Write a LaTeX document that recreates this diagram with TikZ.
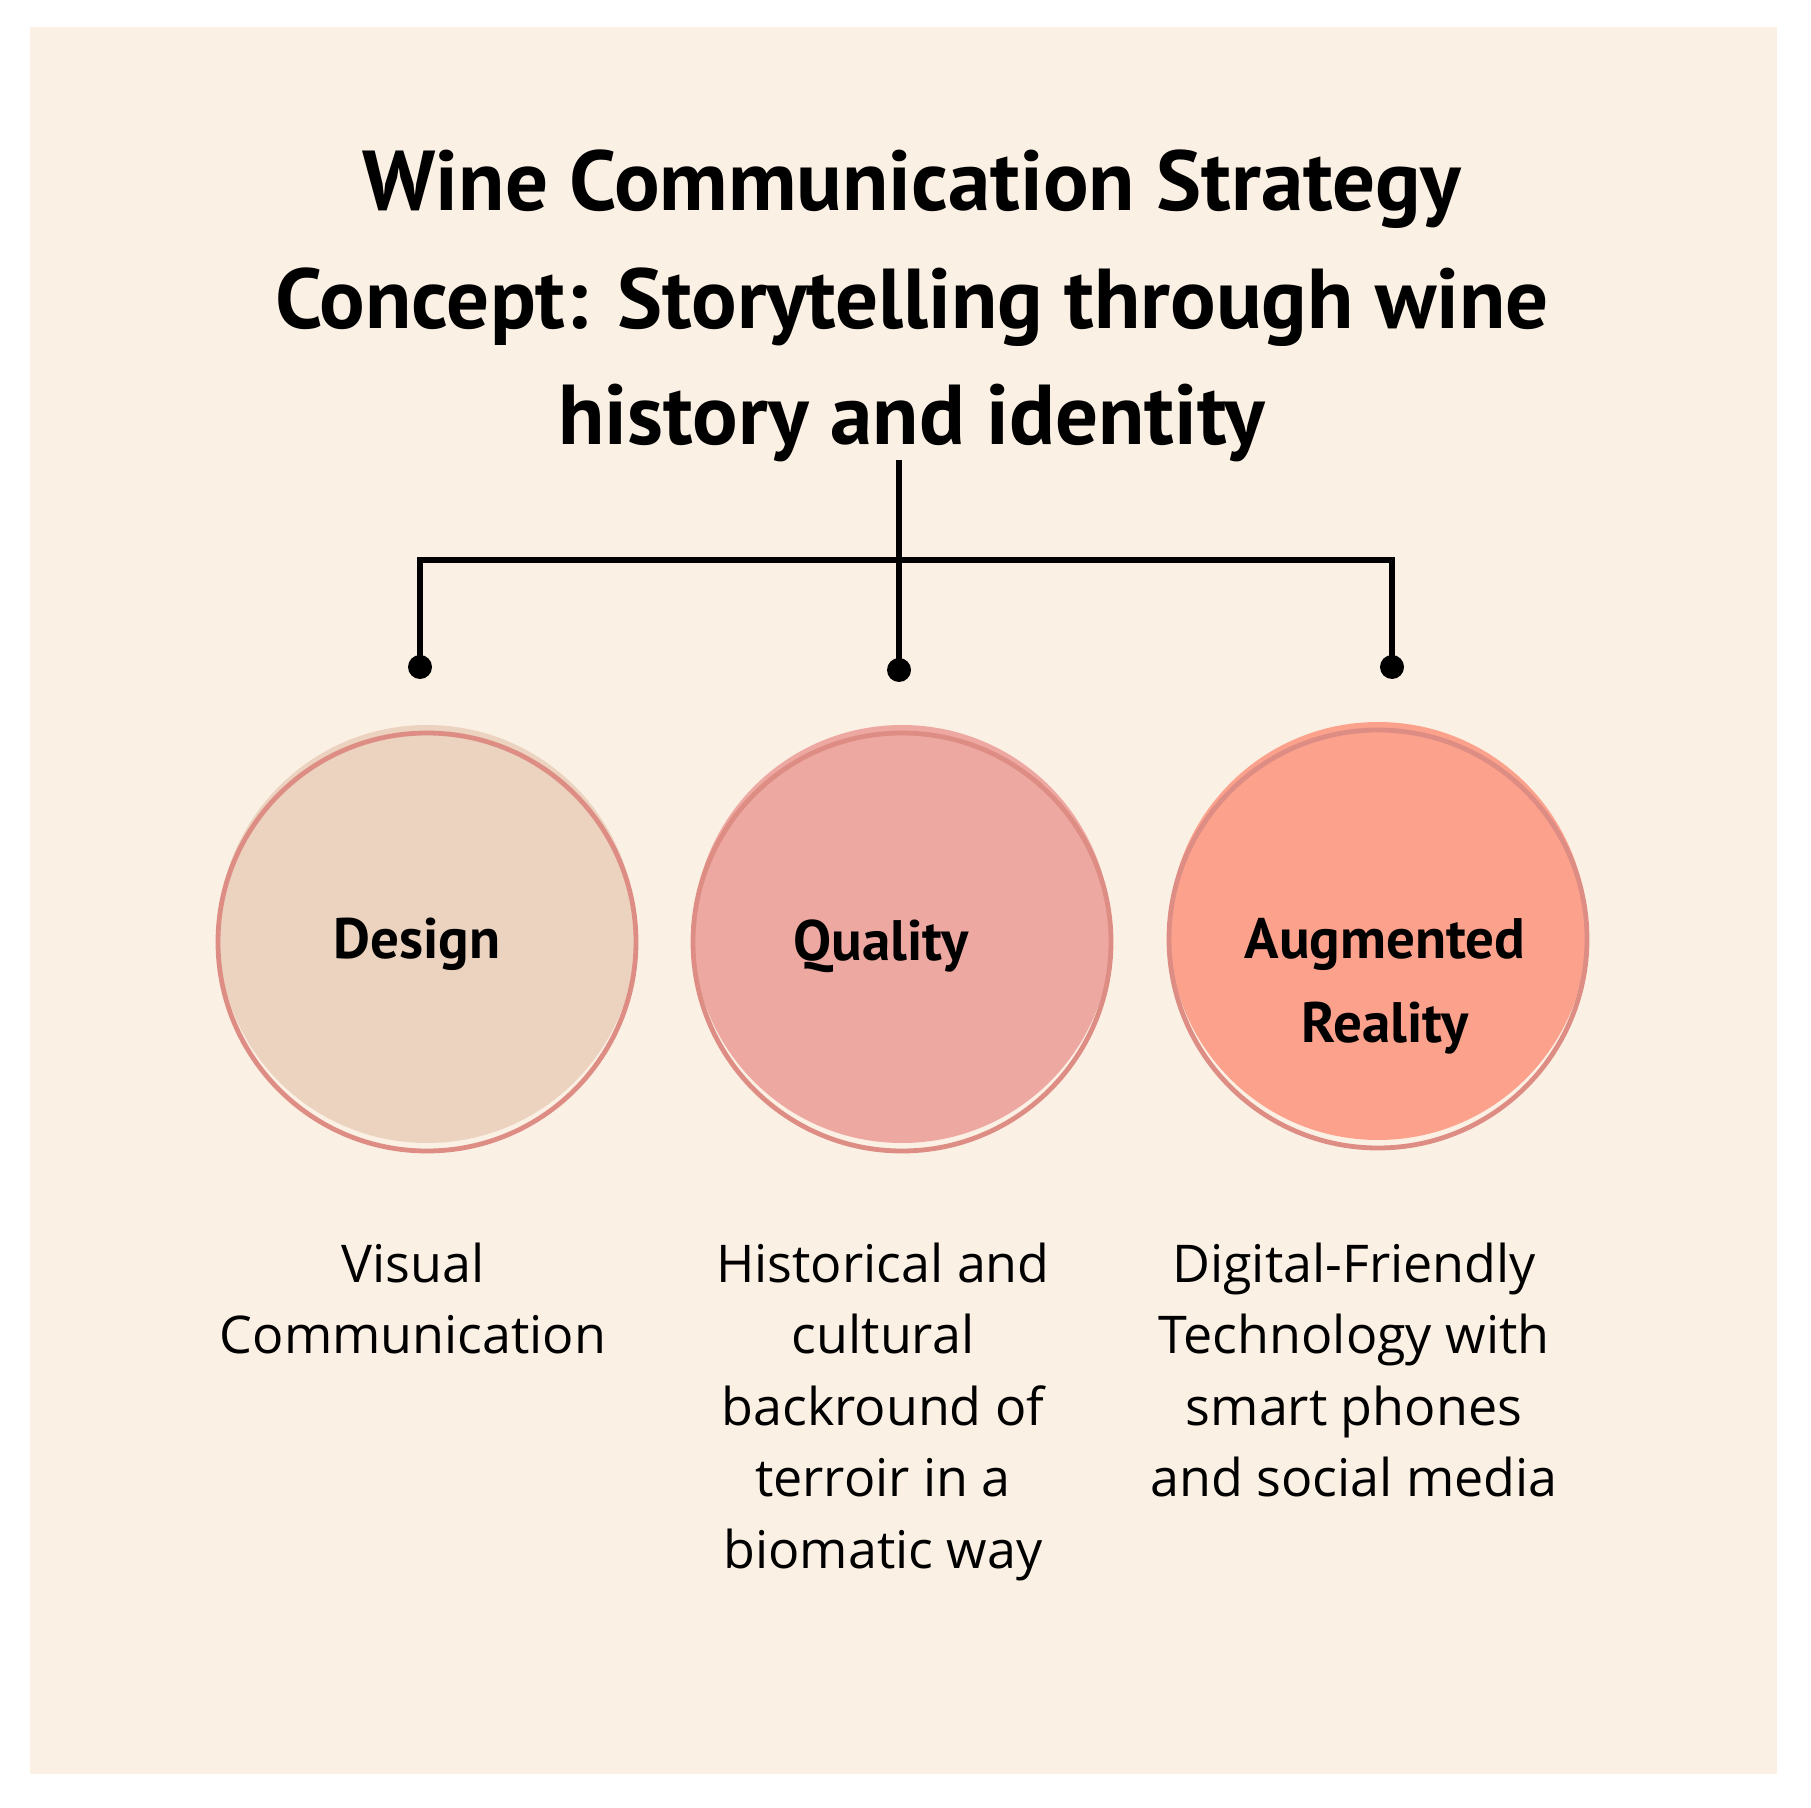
\documentclass[tikz,border=0pt]{standalone}
\usepackage{fontspec}
\setmainfont{Open Sans}
\newfontfamily\titlefont{PT Sans}
\definecolor{bgcream}{HTML}{FBF0E4}
\definecolor{designfill}{HTML}{EBD3C0}
\definecolor{qualityfill}{HTML}{EDA8A1}
\definecolor{arfill}{HTML}{FBA18C}
\definecolor{ringcol}{HTML}{DE8D84}
\tikzset{
  titletext/.style={font=\titlefont\bfseries\fontsize{42.5pt}{58.5pt}\selectfont, align=center, inner sep=0pt},
  circlelabel/.style={font=\titlefont\bfseries\fontsize{28.5pt}{42pt}\selectfont, align=center, inner sep=0pt},
  desctext/.style={font=\fontsize{26pt}{35.75pt}\selectfont, align=center, inner sep=0pt},
  bubble/.style={circle, draw=ringcol, line width=2.4pt, minimum size=209pt, inner sep=0pt},
  joint/.style={circle, fill=black, minimum size=12pt, inner sep=0pt},
  link/.style={line width=3pt, black},
}
\begin{document}
\begin{tikzpicture}[x=0.5pt, y=-0.5pt]
\useasboundingbox (0,0) rectangle (1811,1808);
\fill[bgcream] (30,27) rectangle (1777,1774);

% title (anchor base = baseline of the last line)
\node[titletext, anchor=base] (title) at (912,445)
  {Wine Communication Strategy\\Concept: Storytelling through wine\\history and identity};

% circles: fill shifted up, ring below
\fill[designfill]  (427,934) circle (209);
\fill[qualityfill] (902,934) circle (209);
\fill[arfill]      (1378,931) circle (209);
\node[bubble] (design)  at (427,942) {};
\node[bubble] (quality) at (902,942) {};
\node[bubble] (ar)      at (1378,939) {};

\node[circlelabel, anchor=base] (designlbl)  at (417,958) {Design};
\node[circlelabel, anchor=base] (qualitylbl) at (881,960) {Quality};
\node[circlelabel, anchor=base] (arlbl)      at (1385,1042) {Augmented\\Reality};

% connectors
\coordinate (stem) at (899,460);
\coordinate (hub) at (899,560);
\node[joint] (jl) at (420,667) {};
\node[joint] (jm) at (899,670) {};
\node[joint] (jr) at (1392,667) {};
\draw[link] (stem) -- (jm.center);
\draw[link] (jl.center) |- (hub) -| (jr.center);

% descriptions (anchor base = baseline of the last line)
\node[desctext, anchor=base] (designtxt)  at (413,1353.5) {Visual\\Communication};
\node[desctext, anchor=base] (qualitytxt) at (883,1568) {Historical and\\cultural\\backround of\\terroir in a\\biomatic way};
\node[desctext, anchor=base] (artxt)      at (1354,1496.5) {Digital-Friendly\\Technology with\\smart phones\\and social media};
\end{tikzpicture}
\end{document}
